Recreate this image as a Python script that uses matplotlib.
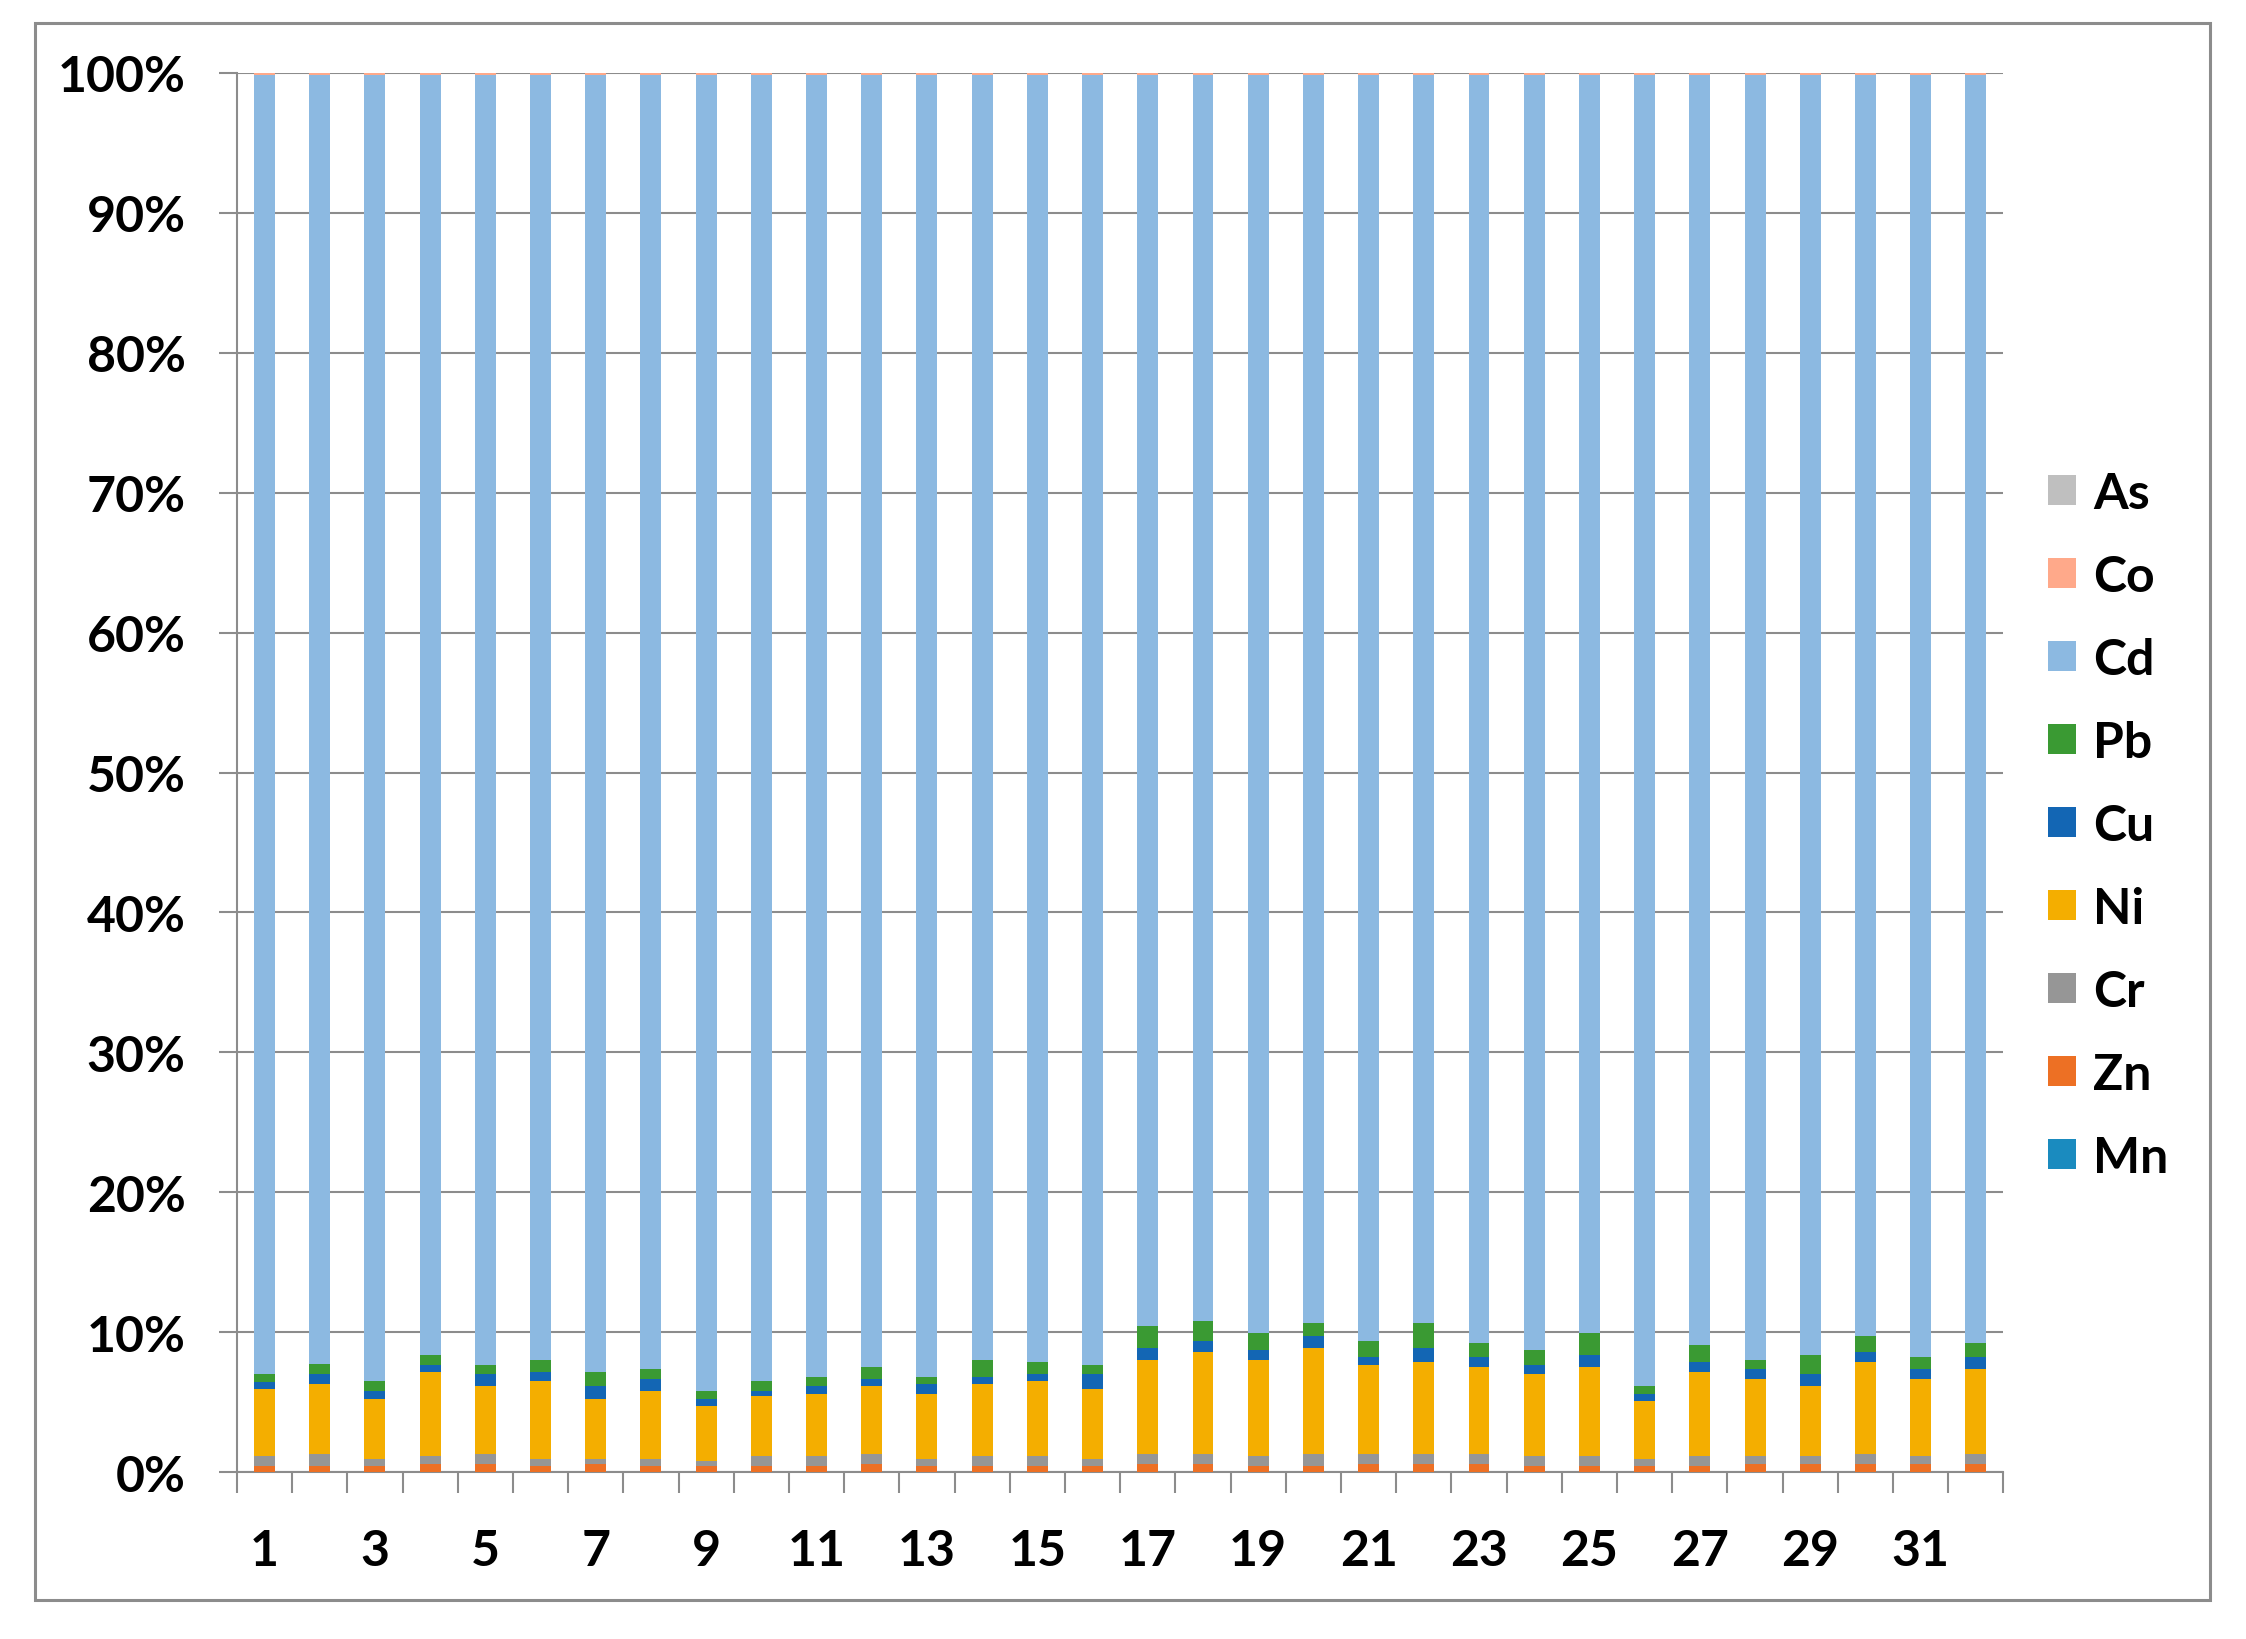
import matplotlib
matplotlib.use("Agg")
import matplotlib.pyplot as plt
import numpy as np
from matplotlib.ticker import PercentFormatter, FixedLocator
from matplotlib.patches import Rectangle

plt.rcParams['font.family'] = ['Lato', 'DejaVu Sans']
plt.rcParams['font.weight'] = 'bold'

# sample numbers 1..32
samples = list(range(1, 33))

# share of each element in every sample (%)
mn = [0.02] * 32
zn = [0.39, 0.39, 0.39, 0.55, 0.55, 0.39, 0.55, 0.39, 0.39, 0.39, 0.39, 0.55, 0.39, 0.39, 0.39, 0.39,
      0.55, 0.55, 0.39, 0.39, 0.55, 0.55, 0.55, 0.39, 0.39, 0.39, 0.39, 0.55, 0.55, 0.55, 0.55, 0.55]
cr = [0.72, 0.87, 0.50, 0.56, 0.70, 0.50, 0.34, 0.50, 0.36, 0.72, 0.72, 0.70, 0.50, 0.72, 0.72, 0.50,
      0.70, 0.70, 0.72, 0.86, 0.70, 0.70, 0.70, 0.72, 0.72, 0.50, 0.72, 0.56, 0.56, 0.70, 0.56, 0.70]
ni = [4.79, 5.04, 4.34, 6.02, 4.87, 5.57, 4.34, 4.87, 3.97, 4.31, 4.48, 4.87, 4.70, 5.18, 5.35, 5.04,
      6.75, 7.28, 6.89, 7.62, 6.41, 6.58, 6.24, 5.85, 6.38, 4.17, 6.02, 5.52, 5.01, 6.58, 5.52, 6.08]
cu = [0.55, 0.67, 0.53, 0.53, 0.84, 0.67, 0.89, 0.87, 0.51, 0.34, 0.53, 0.51, 0.70, 0.51, 0.50, 1.03,
      0.87, 0.84, 0.70, 0.86, 0.51, 1.04, 0.68, 0.70, 0.85, 0.53, 0.70, 0.70, 0.84, 0.70, 0.70, 0.84]
pb = [0.51, 0.70, 0.70, 0.68, 0.70, 0.87, 1.01, 0.70, 0.53, 0.70, 0.68, 0.86, 0.51, 1.20, 0.87, 0.70,
      1.56, 1.40, 1.20, 0.87, 1.20, 1.73, 1.03, 1.04, 1.56, 0.53, 1.21, 0.67, 1.38, 1.20, 0.84, 1.03]
cd = [92.90, 92.20, 93.40, 91.52, 92.20, 91.86, 92.73, 92.53, 94.10, 93.40, 93.06, 92.37, 93.06, 91.86,
      92.03, 92.20, 89.43, 89.09, 89.96, 89.26, 90.49, 89.26, 90.66, 91.16, 89.96, 93.74, 90.82, 91.86,
      91.52, 90.13, 91.69, 90.66]
co = [0.10] * 32
as_ = [0.02] * 32

elements = ['Mn', 'Zn', 'Cr', 'Ni', 'Cu', 'Pb', 'Cd', 'Co', 'As']
series = [mn, zn, cr, ni, cu, pb, cd, co, as_]
colors = ['#1a8bbf', '#ed7024', '#969696', '#f4ae00', '#1366b4', '#3a9a33', '#8cb9e1', '#ffa98a', '#bfbfbf']

data = np.array(series, dtype=float)
frac = data / data.sum(axis=0)  # 100% stacked

fig = plt.figure(figsize=(22.46, 16.4), dpi=100)
ax = fig.add_axes([0.1055, 0.1018, 0.7865, 0.8531])

# outer frame round the whole chart
fig.patches.append(Rectangle((0.0158, 0.0235), 0.968, 0.9618, transform=fig.transFigure,
                             fill=False, edgecolor='#8c8c8c', linewidth=2.2))

x = np.array(samples)
bottom = np.zeros(len(samples))
for name, vals, col in zip(elements, frac, colors):
    ax.bar(x, vals, width=0.38, bottom=bottom, color=col, label=name, zorder=3)
    bottom += vals

ax.set_xlim(0.5, 32.5)
ax.set_ylim(0, 1)
ax.set_yticks(np.arange(0, 1.01, 0.1))
ax.yaxis.set_major_formatter(PercentFormatter(1.0, decimals=0))
ax.grid(axis='y', color='#8c8c8c', linewidth=1.5, zorder=0)
ax.set_axisbelow(True)

for s in ['top', 'right']:
    ax.spines[s].set_visible(False)
for s in ['left', 'bottom']:
    ax.spines[s].set_color('#8c8c8c')
    ax.spines[s].set_linewidth(1.5)

ax.set_xticks(samples[::2])
ax.set_xticklabels([str(n) for n in samples[::2]])
ax.xaxis.set_minor_locator(FixedLocator(np.arange(0.5, 33, 1)))
ax.tick_params(axis='x', which='major', length=0, pad=40, labelsize=36)
ax.tick_params(axis='x', which='minor', length=15, width=1.5, color='#8c8c8c')
ax.tick_params(axis='y', length=13, width=1.5, color='#8c8c8c', pad=24, labelsize=36)
for lab in ax.get_xticklabels() + ax.get_yticklabels():
    lab.set_fontweight('bold')

handles, labels = ax.get_legend_handles_labels()
leg = fig.legend(handles[::-1], labels[::-1], loc='center left', bbox_to_anchor=(0.912, 0.496),
                 frameon=False, prop={'weight': 'bold', 'size': 36},
                 handlelength=0.55, handleheight=0.55, handletextpad=0.35,
                 labelspacing=0.76, borderpad=0, borderaxespad=0)

fig.savefig('out.png', dpi=100)
